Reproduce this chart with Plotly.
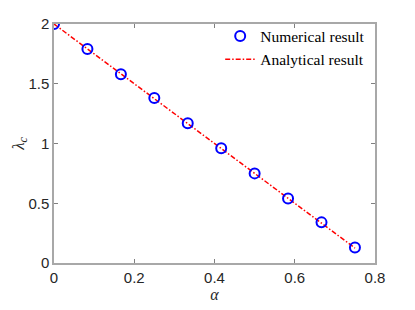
import plotly.graph_objects as go

alpha_num = [0, 0.0833, 0.1667, 0.25, 0.3333, 0.4167, 0.5, 0.5833, 0.6667, 0.75]
lambda_num = [2.0, 1.79, 1.58, 1.38, 1.17, 0.96, 0.75, 0.54, 0.34, 0.13]
alpha_ana = [0, 0.75]
lambda_ana = [2.0, 0.125]

x_ticks = [0, 0.2, 0.4, 0.6, 0.8]
x_labels = ["0", "0.2", "0.4", "0.6", "0.8"]
y_ticks = [0, 0.5, 1, 1.5, 2]
y_labels = ["0", "0.5", "1", "1.5", "2"]

fig = go.Figure()
fig.add_trace(go.Scatter(
    x=alpha_ana, y=lambda_ana, mode="lines", name="Analytical result",
    line=dict(color="#ff0000", width=1.5, dash="5px,2px,1.5px,2px"),
))
fig.add_trace(go.Scatter(
    x=alpha_num, y=lambda_num, mode="markers", name="Numerical result",
    marker=dict(symbol="circle-open", size=10, color="#0000ff", line=dict(width=2, color="#0000ff")),
))

axis_common = dict(
    showgrid=False, zeroline=False, showline=True, mirror="ticks",
    linecolor="#a8a8a8", linewidth=1.5, ticks="inside", ticklen=4,
    tickcolor="#808080", tickwidth=1, automargin=False,
    tickfont=dict(family="Liberation Sans, Arial, sans-serif", size=15, color="#262626"),
)

fig.update_layout(
    width=415, height=310,
    margin=dict(l=46, r=48, t=15, b=55),
    paper_bgcolor="white", plot_bgcolor="white",
    showlegend=True,
    legend=dict(
        x=0.985, y=1.015, xanchor="right", yanchor="top",
        bgcolor="rgba(0,0,0,0)", traceorder="reversed",
        font=dict(family="Liberation Serif, Times New Roman, serif", size=15.5, color="black"),
        itemwidth=30, tracegroupgap=0,
    ),
    xaxis=dict(
        range=[0, 0.8], tickvals=x_ticks, ticktext=x_labels,
        title=dict(text="<i>α</i>", standoff=2,
                   font=dict(family="Liberation Serif, serif", size=16, color="#262626")),
        **axis_common,
    ),
    yaxis=dict(
        range=[0, 2], tickvals=y_ticks, ticktext=y_labels,
        **axis_common,
    ),
    annotations=[dict(
        text="<i>λ<sub>c</sub></i>", xref="paper", yref="paper",
        x=-0.108, y=0.5, xanchor="center", yanchor="middle",
        textangle=-90, showarrow=False,
        font=dict(family="Liberation Serif, serif", size=17, color="#262626"),
    )],
)

fig.write_html("out.html")
